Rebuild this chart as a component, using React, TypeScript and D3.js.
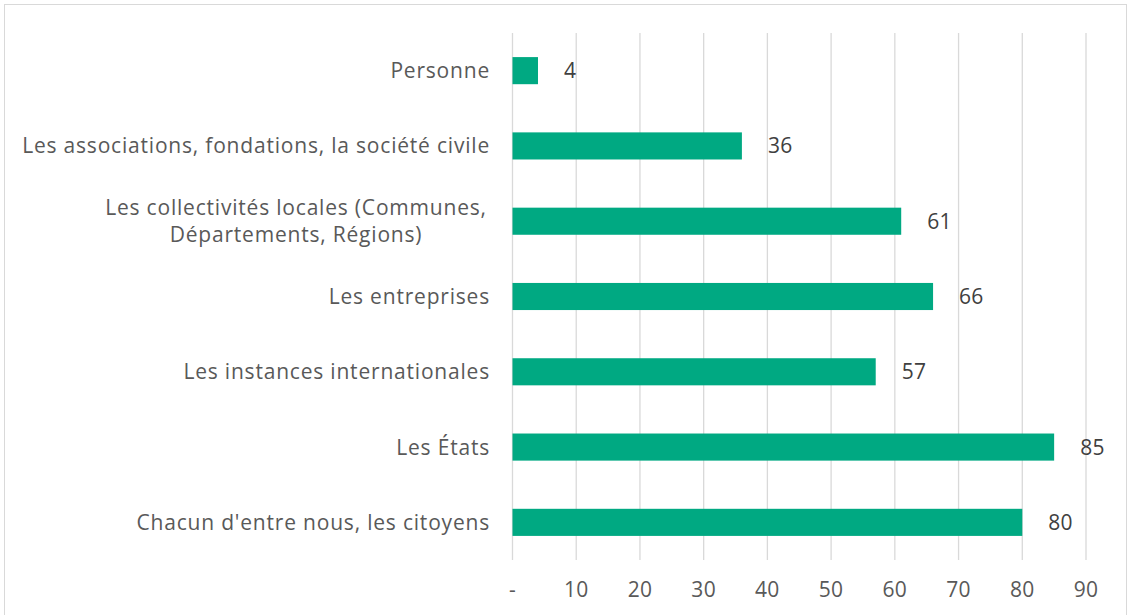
import React from "react";
import * as d3 from "d3";

const categories = [
  "Personne",
  "Les associations, fondations, la société civile",
  "Les collectivités locales (Communes,|Départements, Régions)",
  "Les entreprises",
  "Les instances internationales",
  "Les États",
  "Chacun d'entre nous, les citoyens",
];
const values = [4, 36, 61, 66, 57, 85, 80];
const tickValues = [0, 10, 20, 30, 40, 50, 60, 70, 80, 90];
const tickLabels = ["-", "10", "20", "30", "40", "50", "60", "70", "80", "90"];

const W = 1131;
const H = 615;
const FONT = "'Open Sans', sans-serif";

export default function App() {
  const x = d3.scaleLinear().domain([0, 90]).range([512.5, 1086]);
  const y = d3
    .scaleBand<string>()
    .domain(categories)
    .range([33, 560])
    .paddingInner(0.64)
    .paddingOuter(0.32);
  const bh = y.bandwidth();
  return (
    <svg
      width={W}
      height={H}
      style={{ position: "absolute", left: 0, top: 0, background: "#fff" }}
      fontFamily={FONT}
    >
      <rect x={4.5} y={4.5} width={1122} height={620} fill="#fff" stroke="#D9D9D9" strokeWidth={1} />
      {tickValues.map((t) => (
        <line key={"g" + t} x1={x(t)} x2={x(t)} y1={33} y2={560} stroke="#D9D9D9" strokeWidth={1.3} />
      ))}
      {tickValues.map((t, i) => (
        <text key={"t" + t} x={x(t)} y={597} textAnchor="middle" fontSize={21} fill="#595959" letterSpacing={0.3}>
          {tickLabels[i]}
        </text>
      ))}
      {categories.map((c, i) => {
        const yc = (y(c) as number) + bh / 2;
        const lines = c.split("|");
        return (
          <g key={c}>
            <rect x={x(0)} y={y(c)} width={x(values[i]) - x(0)} height={bh} fill="#00A982" />
            <text x={x(values[i]) + 26} y={yc} dy="0.36em" fontSize={21} fill="#404040" letterSpacing={0.3}>
              {values[i]}
            </text>
            {lines.map((l, j) => (
              <text
                key={j}
                x={lines.length > 1 ? 296 : 490}
                y={yc + (j - (lines.length - 1) / 2) * 27}
                dy="0.36em"
                textAnchor={lines.length > 1 ? "middle" : "end"}
                fontSize={21}
                fill="#595959"
                letterSpacing={0.8}
              >
                {l}
              </text>
            ))}
          </g>
        );
      })}
    </svg>
  );
}
